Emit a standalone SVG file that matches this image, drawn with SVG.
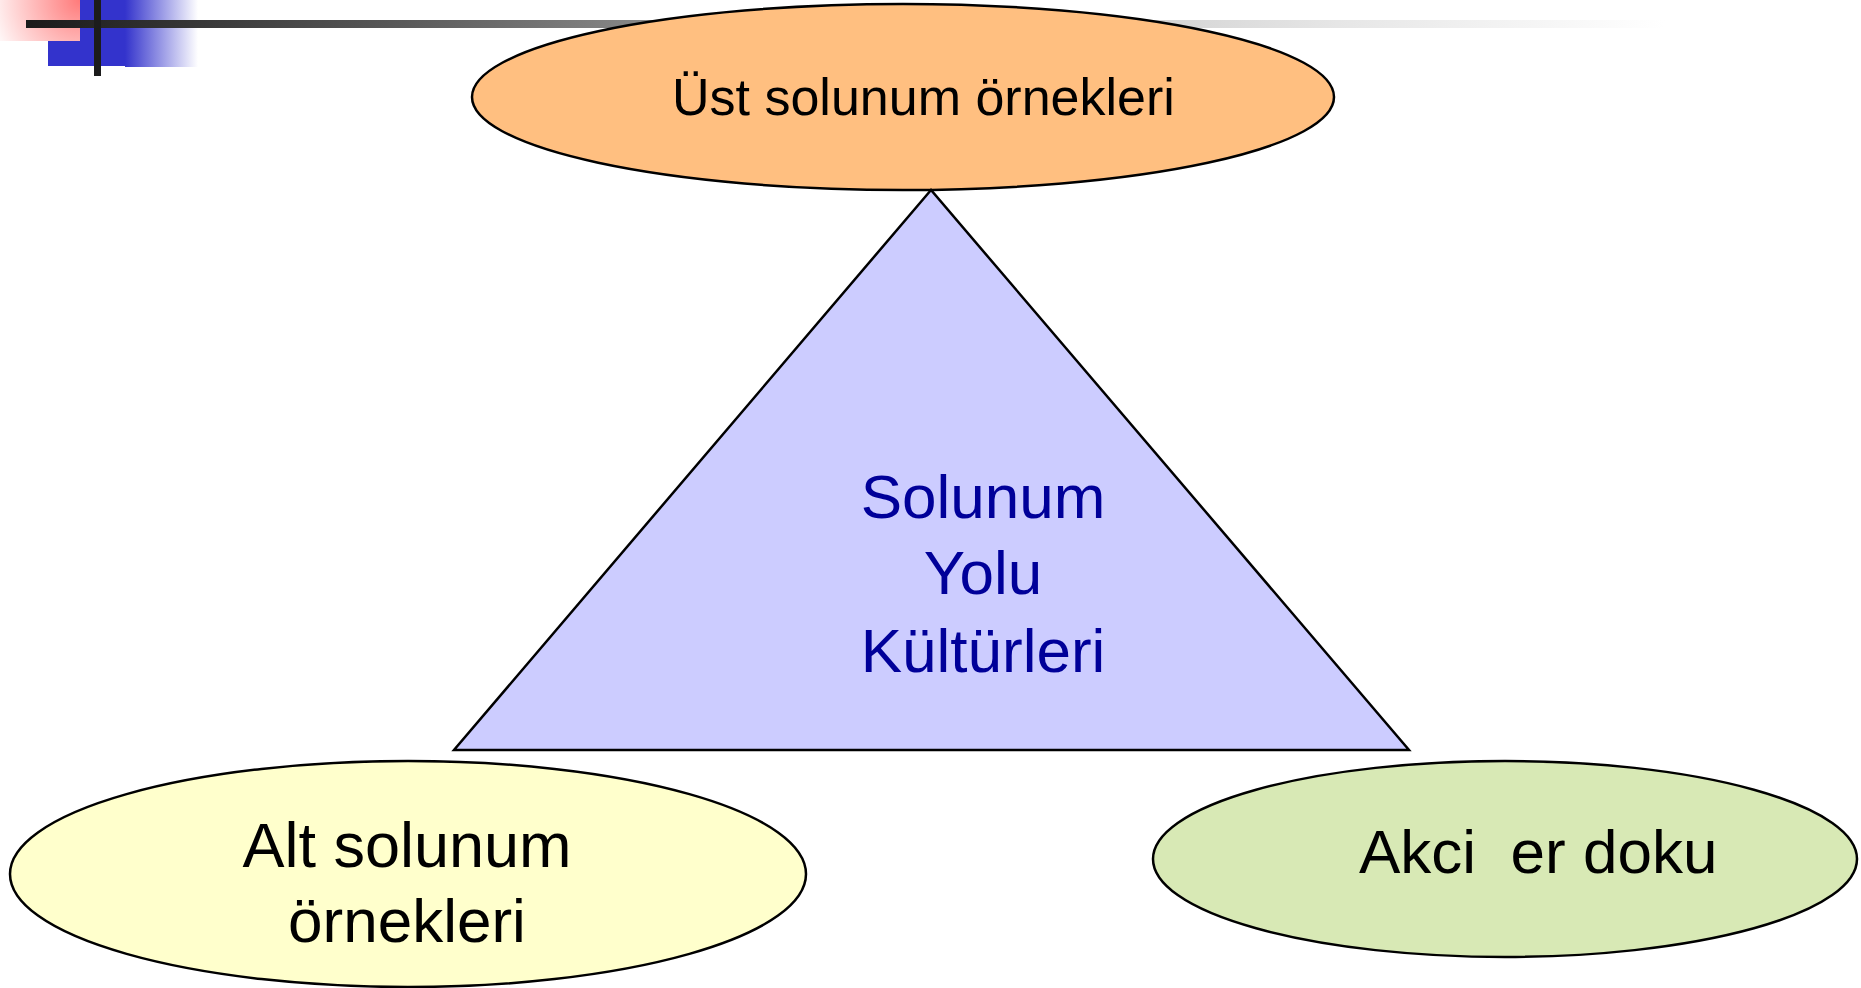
<svg xmlns="http://www.w3.org/2000/svg" width="1861" height="988" viewBox="0 0 1861 988">
<defs>
<style>
.shape{stroke:#000;stroke-width:2.5}
.lbl{font-family:"Liberation Sans",Arial,sans-serif;fill:#000}
.tri{font-family:"Liberation Sans",Arial,sans-serif;fill:#000099;text-anchor:middle;font-size:62px}
</style>
<radialGradient id="pink" cx="80" cy="0" r="95" gradientUnits="userSpaceOnUse">
<stop offset="0" stop-color="#ff7a7a"/>
<stop offset="1" stop-color="#ffffff"/>
</radialGradient>
<linearGradient id="bluefade" x1="125" y1="0" x2="198" y2="0" gradientUnits="userSpaceOnUse">
<stop offset="0" stop-color="#3333cc"/>
<stop offset="1" stop-color="#ffffff"/>
</linearGradient>
<linearGradient id="linefade" x1="26" y1="0" x2="1665" y2="0" gradientUnits="userSpaceOnUse">
<stop offset="0" stop-color="#1a1a1a"/>
<stop offset="0.23" stop-color="#5a5a5a"/>
<stop offset="0.55" stop-color="#bdbdbd"/>
<stop offset="0.8" stop-color="#e6e6e6"/>
<stop offset="1" stop-color="#ffffff"/>
</linearGradient>
</defs>
<rect width="1861" height="988" fill="#fff"/>
<g id="decoration">
<rect x="48" y="0" width="77" height="66" fill="#3333cc"/>
<rect x="125" y="0" width="73" height="67" fill="url(#bluefade)"/>
<rect x="0" y="0" width="80" height="41" fill="url(#pink)"/>
<rect x="26" y="20" width="1639" height="8" fill="url(#linefade)"/>
<rect x="94" y="0" width="7" height="76" fill="#1c1c1c"/>
</g>
<g id="connectors"/>
<g id="node-ust">
<ellipse class="shape" cx="903" cy="97" rx="431" ry="93" fill="#ffbf80"/>
<text class="lbl" x="672" y="115" font-size="52">Üst solunum örnekleri</text>
</g>
<g id="node-triangle">
<polygon class="shape" points="931,190 454,750 1409,750" fill="#ccccff" stroke-width="2.2"/>
<text class="tri" x="983" y="518">Solunum</text>
<text class="tri" x="983" y="594">Yolu</text>
<text class="tri" x="983" y="672">Kültürleri</text>
</g>
<g id="node-alt">
<ellipse class="shape" cx="408" cy="874" rx="398" ry="113" fill="#ffffcc"/>
<text class="lbl" x="407" y="867" font-size="63" text-anchor="middle">Alt solunum</text>
<text class="lbl" x="407" y="942" font-size="62" text-anchor="middle">örnekleri</text>
</g>
<g id="node-akciger">
<ellipse class="shape" cx="1505" cy="859" rx="352" ry="98" fill="#d8e9b5"/>
<text class="lbl" x="1359" y="873" font-size="62" xml:space="preserve">Akci  er doku</text>
</g>
</svg>
